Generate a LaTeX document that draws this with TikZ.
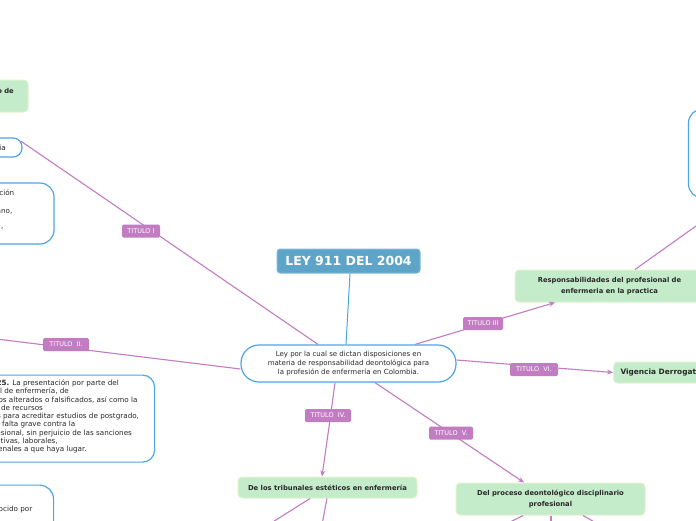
\documentclass[tikz,border=0pt]{standalone}
\usepackage{fontspec}
\setmainfont{DejaVu Sans}
\usetikzlibrary{arrows.meta,calc}
\definecolor{purp}{RGB}{194,124,194}
\definecolor{bblue}{RGB}{74,166,232}
\definecolor{tfill}{RGB}{94,164,200}
\definecolor{tdraw}{RGB}{130,188,216}
\definecolor{gfill}{RGB}{196,236,202}
\definecolor{gdraw}{RGB}{226,244,206}
\definecolor{txt}{RGB}{40,40,40}
\begin{document}
\begin{tikzpicture}[x=1pt,y=-1pt,
  conn/.style={draw=purp,line width=1.1pt},
  arr/.style={conn,-{Stealth[length=6pt,width=5pt]}},
  bline/.style={draw=bblue,line width=1pt},
  lbl/.style={fill=purp,rounded corners=1.5pt,text=white,font=\fontsize{6.5}{7.5}\selectfont,inner sep=0pt,minimum height=13pt},
  greenbox/.style={fill=gfill,draw=gdraw,line width=1pt,rounded corners=4pt,text=txt,font=\bfseries\fontsize{6.8}{10.8}\selectfont,align=center,inner sep=0pt},
  bluebox/.style={fill=white,draw=bblue,line width=1.2pt,text=txt,inner sep=0pt},
  frag/.style={inner sep=0pt,text=txt,font=\fontsize{7.2}{8.6}\selectfont},
]
\useasboundingbox (0,0) rectangle (696,520);
\clip (0,0) rectangle (696,520);
\fill[white] (0,0) rectangle (696,520);

% nodes
\node[fill=tfill,draw=tdraw,line width=1pt,rounded corners=3pt,text=white,font=\bfseries\fontsize{12.5}{14}\selectfont,minimum width=143pt,minimum height=24pt,inner sep=0pt] (title) at (348.5,261) {LEY 911 DEL 2004};
\node[bluebox,rounded corners=18pt,minimum width=215pt,minimum height=37pt,align=center,font=\fontsize{7}{8.7}\selectfont] (c) at (348.5,363.5) {Ley por la cual se dictan disposiciones en\\materia de responsabilidad deontológica para\\la profesión de enfermería en Colombia.};

\node[greenbox,minimum width=189pt,minimum height=32pt] (resp) at (609.5,286) {Responsabilidades del profesional de\\enfermeria en la practica};
\node[bluebox,rounded corners=14pt,minimum width=92pt,minimum height=89pt] (rbox) at (734.5,153.5) {};
\node[greenbox,anchor=west,minimum height=21pt,inner xsep=7pt,font=\bfseries\fontsize{7.4}{9}\selectfont] (vig) at (613,372.5) {Vigencia Derrogatorias};
\node[greenbox,minimum width=179pt,minimum height=21pt] (trib) at (327.5,487.5) {De los tribunales estéticos en enfermería};
\node[greenbox,minimum width=189pt,minimum height=32pt] (proc) at (550.5,499) {Del proceso deontológico disciplinario\\profesional};

% left side boxes
\node[greenbox,minimum width=108pt,minimum height=32pt] (gl) at (-26,96) {};
\node[frag,anchor=east,font=\bfseries\fontsize{6.8}{8}\selectfont] (gltxt) at (14,91) {o de};
\node[bluebox,rounded corners=9pt,minimum width=102pt,minimum height=19pt] (ia) at (-29,147.5) {};
\node[frag,anchor=east] (iatxt) at (6,147.5) {ia};
\node[bluebox,rounded corners=14pt,minimum width=134pt,minimum height=61pt] (cb) at (-13,213.5) {};
\node[frag,anchor=east] (cb1) at (14.5,193) {ción};
\node[frag,anchor=east] (cb2) at (12.5,211.5) {ano,};
\node[frag,anchor=east] (cb3) at (3.5,228.5) {,};
\node[bluebox,rounded corners=12pt,minimum width=234pt,minimum height=87pt,anchor=north west] (artbox) at (-80,374.5) {};
\node[frag,anchor=north west,align=left,font=\fontsize{7.2}{8.3}\selectfont] (art) at (-38,379.5) {\textbf{Artículo 25.} La presentación por parte del\\profesional de enfermería, de\\documentos alterados o falsificados, así como la\\utilización de recursos\\irregulares para acreditar estudios de postgrado,\\constituye falta grave contra la\\ética profesional, sin perjuicio de las sanciones\\administrativas, laborales,\\civiles o penales a que haya lugar.};
\node[bluebox,rounded corners=14pt,minimum width=133pt,minimum height=80pt,anchor=north west] (bl) at (-80,484.5) {};
\node[frag,anchor=east] (bltxt) at (32.5,510) {ocido por};

% free ends
\coordinate (t2end) at (-10,338.2);
\coordinate (tr1) at (260,530);
\coordinate (tr2) at (321,530);
\coordinate (pr1) at (500,527);
\coordinate (pr2) at (551,530);
\coordinate (pr3) at (603,527);

% connectors
\draw[bline] ([xshift=1.5pt]title.south) -- ([xshift=-2.5pt]c.north);
\draw[conn] ([xshift=-30.5pt]c.north) -- ([shift={(-2pt,6.5pt)}]ia.east);
\draw[conn] ([yshift=-5.5pt]c.west) -- (t2end);
\draw[arr] ([xshift=66.5pt]c.north) -- ([xshift=-54.5pt]resp.south);
\draw[arr] ([yshift=3.5pt]c.east) -- (vig.west);
\draw[arr] ([xshift=-13.5pt]c.south) .. controls (330,420) .. ([xshift=-5.5pt]trib.north);
\draw[arr] ([xshift=26.5pt]c.south) -- ([xshift=-26.5pt]proc.north);
\draw[conn] ([xshift=25.5pt]resp.north) -- (rbox.south);
\draw[conn] ([xshift=-17.5pt]trib.south) -- (tr1);
\draw[conn] ([xshift=-0.5pt]trib.south) -- (tr2);
\draw[conn] ([xshift=-27.5pt]proc.south) -- (pr1);
\draw[conn] ([xshift=0.5pt]proc.south) -- (pr2);
\draw[conn] ([xshift=32.5pt]proc.south) -- (pr3);

% labels
\node[lbl,minimum width=38pt] (l1) at (141,231) {TITULO I};
\node[lbl,minimum width=46pt] (l2) at (66,344.5) {TITULO\ \ II.};
\node[lbl,minimum width=40pt] (l3) at (483,323.5) {TITULO III};
\node[lbl,minimum width=48pt] (l6) at (534,369.5) {TITULO\ \ VI.};
\node[lbl,minimum width=46pt] (l4) at (328,415.5) {TITULO\ \ IV.};
\node[lbl,minimum width=44pt] (l5) at (451,433) {TITULO\ \ V.};
\end{tikzpicture}
\end{document}
